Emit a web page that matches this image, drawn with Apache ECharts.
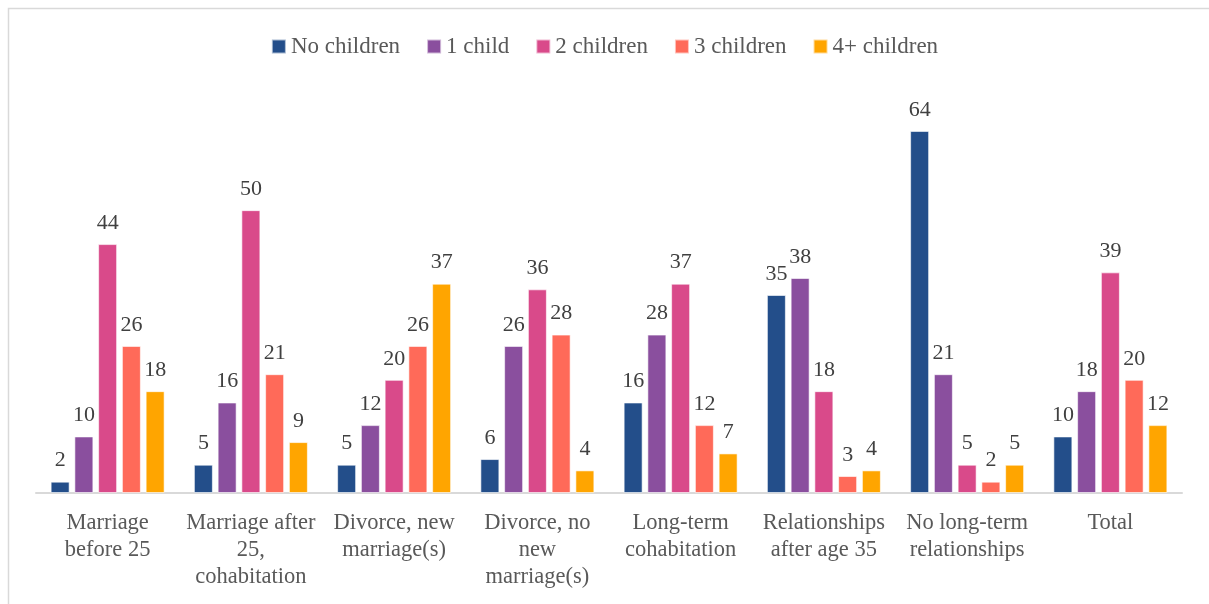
<!DOCTYPE html>
<html>
<head>
<meta charset="utf-8">
<script src="https://cdn.jsdelivr.net/npm/echarts@6/dist/echarts.min.js"></script>
<style>html,body{margin:0;padding:0;background:#fff;}#c{width:1209px;height:604px;}</style>
</head>
<body>
<div id="c"></div>
<script>
const categories = ['Marriage\nbefore 25', 'Marriage after\n25,\ncohabitation', 'Divorce, new\nmarriage(s)', 'Divorce, no\nnew\nmarriage(s)', 'Long-term\ncohabitation', 'Relationships\nafter age 35', 'No long-term\nrelationships', 'Total'];
const seriesNames = ['No children', '1 child', '2 children', '3 children', '4+ children'];
const noChildren = [2, 5, 5, 6, 16, 35, 64, 10];
const oneChild = [10, 16, 12, 26, 28, 38, 21, 18];
const twoChildren = [44, 50, 20, 36, 37, 18, 5, 39];
const threeChildren = [26, 21, 26, 28, 12, 3, 2, 20];
const fourPlusChildren = [18, 9, 37, 4, 7, 4, 5, 12];
const seriesData = [noChildren, oneChild, twoChildren, threeChildren, fourPlusChildren];
const colors = ['#234E8A', '#8A4F9E', '#D94A8A', '#FF6A59', '#FFA500'];

const font = '"Liberation Serif", "DejaVu Serif", serif';
const chart = echarts.init(document.getElementById('c'), null, {renderer: 'canvas'});
chart.setOption({
  animation: false,
  color: colors,
  textStyle: {fontFamily: font},
  graphic: [{
    type: 'rect', left: 6, top: 6,
    shape: {width: 1220, height: 620},
    style: {fill: 'none', stroke: '#D9D9D9', lineWidth: 1.5},
    silent: true
  }],
  legend: {
    top: 30, left: 'center',
    itemWidth: 14, itemHeight: 14, itemGap: 26,
    icon: 'rect',
    textStyle: {fontFamily: font, fontSize: 23, color: '#595959', padding: [0, 0, 0, 0]},
    data: seriesNames
  },
  grid: {left: 36, right: 27, top: 97, bottom: 111, containLabel: false},
  xAxis: {
    type: 'category', data: categories,
    axisLine: {lineStyle: {color: '#D9D9D9', width: 2}},
    axisTick: {show: false},
    axisLabel: {fontFamily: font, fontSize: 22.5, color: '#595959', lineHeight: 27, margin: 17, interval: 0}
  },
  yAxis: {type: 'value', min: 0, max: 70, show: false, splitLine: {show: false}},
  series: seriesData.map((d, i) => ({
    name: seriesNames[i], type: 'bar', data: d,
    barWidth: 19, barGap: '25%',
    itemStyle: {borderColor: 'rgba(255,255,255,0.6)', borderWidth: 1},
    label: {show: true, position: 'top', distance: 10, fontFamily: font, fontSize: 22, color: '#404040'}
  }))
});
</script>
</body>
</html>
